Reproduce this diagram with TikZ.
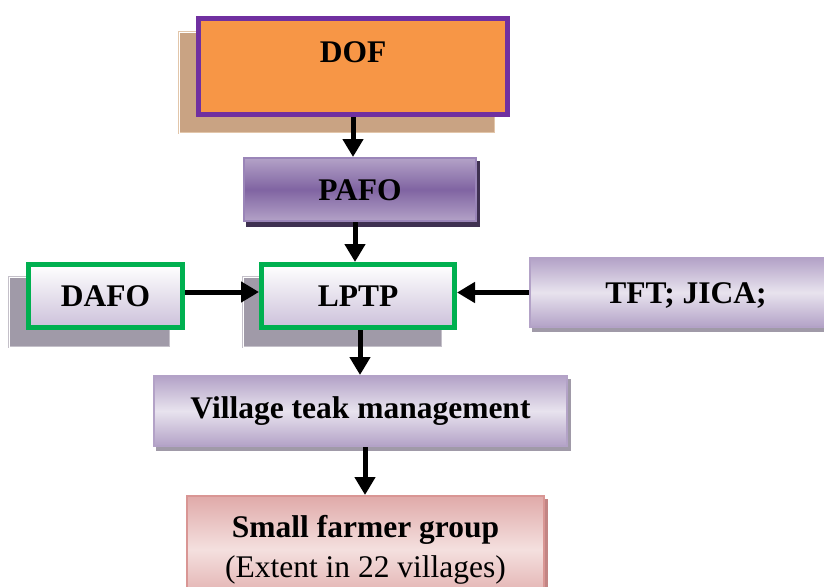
\documentclass[tikz,border=0pt]{standalone}
\usepackage{fontspec}
\setmainfont{Liberation Serif}
\usetikzlibrary{arrows.meta,backgrounds}

\definecolor{dofOrange}{HTML}{F79646}
\definecolor{dofPurple}{HTML}{7030A0}
\definecolor{tanFill}{HTML}{C9A383}
\definecolor{tanEdge}{HTML}{E2C6AA}
\definecolor{pafoLight}{HTML}{B3A2C7}
\definecolor{pafoMid}{HTML}{8064A2}
\definecolor{pafoEdge}{HTML}{9A85B8}
\definecolor{pafoShadow}{HTML}{3F3151}
\definecolor{boxGreen}{HTML}{00B050}
\definecolor{greyFill}{HTML}{A09AA8}
\definecolor{greyEdge}{HTML}{C4C0C9}
\definecolor{lavLight}{HTML}{E8E3EE}
\definecolor{lavDark}{HTML}{B3A2C7}
\definecolor{lavBottom}{HTML}{CCC1DA}
\definecolor{pinkLight}{HTML}{F4E0DF}
\definecolor{pinkDark}{HTML}{E0AAA9}
\definecolor{pinkEdge}{HTML}{D99694}
\definecolor{pinkShadow}{HTML}{C28584}

\begin{document}
\begin{tikzpicture}[x=1pt,y=-1pt,
  lbl/.style={font=\fontsize{31.5}{40}\selectfont\bfseries, inner sep=0pt,
    text height=21pt, text depth=0pt},
  dofbox/.style={lbl, draw=dofPurple, line width=5pt, fill=dofOrange},
  pafobox/.style={lbl, draw=pafoEdge, line width=2pt,
    top color=pafoLight, bottom color=pafoLight, middle color=pafoMid},
  greenbox/.style={lbl, draw=boxGreen, line width=5pt,
    top color=white, bottom color=lavBottom},
  lavbox/.style={lbl, draw=lavDark, line width=2pt,
    shading angle=-45, top color=lavDark, bottom color=lavDark, middle color=lavLight},
  pinkbox/.style={draw=pinkEdge, line width=2pt,
    shading angle=-45, top color=pinkDark, bottom color=pinkDark, middle color=pinkLight},
  tanshadow/.style={fill=tanFill, draw=tanEdge, double=white,
    double distance=0.9pt, line width=1pt},
  greyshadow/.style={fill=greyFill, draw=greyEdge, double=white,
    double distance=0.9pt, line width=1pt},
  arr/.style={line width=5pt, -{Triangle[length=18pt,width=20pt]}}]

\useasboundingbox (0,0) rectangle (824,586);

% boxes of the chart
\node[dofbox, minimum width=309pt, minimum height=96pt, text depth=28pt]
  (dof) at (353,66.5) {DOF};
\node[pafobox, minimum width=232pt, minimum height=63pt]
  (pafo) at (360,189.5) {PAFO};
\node[greenbox, minimum width=154pt, minimum height=63pt, text width=150pt,
  align=center, xshift=4pt]
  (dafo) at (101.5,296) {DAFO};
\node[greenbox, minimum width=193pt, minimum height=63pt]
  (lptp) at (358,296) {LPTP};
\node[lavbox, minimum width=312pt, minimum height=69pt]
  (tft) at (686,292.5) {TFT; JICA;};
\node[lavbox, minimum width=413pt, minimum height=70pt, text depth=7pt]
  (vtm) at (360.5,411) {Village teak management};
\node[pinkbox, anchor=north, minimum width=357pt, inner xsep=0pt, inner ysep=19pt,
  align=center, font=\fontsize{31.5}{40}\selectfont]
  (sfg) at (365.5,495) {{\bfseries Small farmer group}\\(Extent in 22 villages)};

% shadows behind the boxes
\begin{scope}[on background layer]
  \path[tanshadow] ([shift={(-17,16)}]dof.north west) rectangle ([shift={(-15,16)}]dof.south east);
  \fill[pafoShadow] ([shift={(3,4)}]pafo.north west) rectangle ([shift={(3,5)}]pafo.south east);
  \path[greyshadow] ([shift={(-17,15)}]dafo.north west) rectangle ([shift={(-15,17)}]dafo.south east);
  \path[greyshadow] ([shift={(-16,15)}]lptp.north west) rectangle ([shift={(-15,17)}]lptp.south east);
  \fill[greyFill] ([shift={(3,4)}]tft.north west) rectangle ([shift={(3,4)}]tft.south east);
  \fill[greyFill] ([shift={(3,4)}]vtm.north west) rectangle ([shift={(3,4)}]vtm.south east);
  \fill[pinkShadow] ([shift={(3,4)}]sfg.north west) rectangle ([shift={(3,4)}]sfg.south east);
\end{scope}

% connectors
\draw[arr] (dof.south) -- (dof.south |- pafo.north);
\draw[arr] ([xshift=-5pt]pafo.south) -- ([xshift=-5pt]pafo.south |- lptp.north);
\draw[arr] ([yshift=4pt]dafo.east) -- ([yshift=4pt]dafo.east -| lptp.west);
\draw[arr] (tft.west) -- (tft.west -| lptp.east);
\draw[arr] ([xshift=2pt]lptp.south) -- ([xshift=2pt]lptp.south |- vtm.north);
\draw[arr] ([xshift=4.5pt]vtm.south) -- ([xshift=4.5pt]vtm.south |- sfg.north);
\end{tikzpicture}
\end{document}
